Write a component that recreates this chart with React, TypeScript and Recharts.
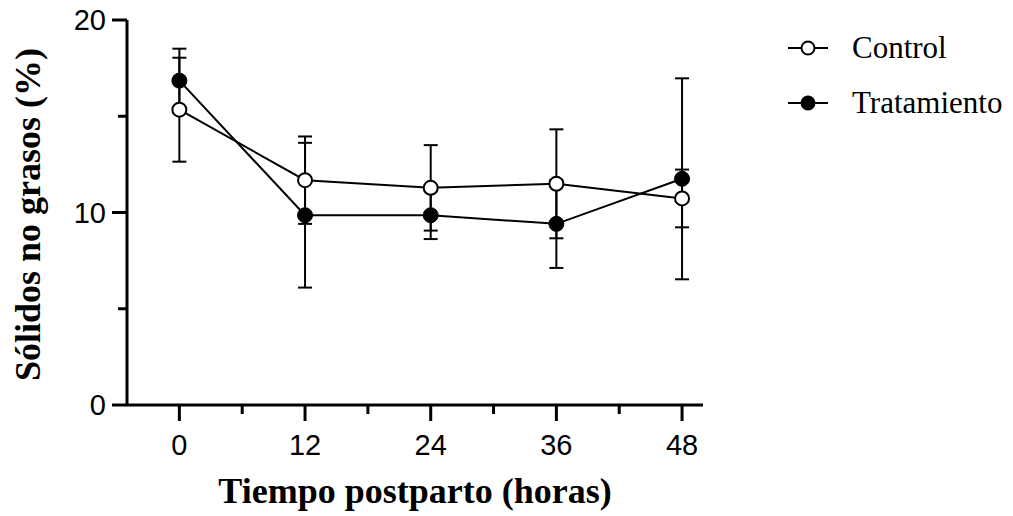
import { ErrorBar, Label, Legend, Line, LineChart, XAxis, YAxis } from "recharts";

const hours = [0, 12, 24, 36, 48];
const control = [15.34, 11.68, 11.28, 11.49, 10.73];
const controlErr = [2.7, 2.27, 2.22, 2.83, 1.5];
const treatment = [16.85, 9.86, 9.86, 9.41, 11.75];
const treatmentErr = [1.66, 3.76, 1.24, 2.29, 5.22];

const xTicks = [0, 6, 12, 18, 24, 30, 36, 42, 48];
const yTicks = [0, 5, 10, 15, 20];

const data = hours.map((h, i) => ({
  hour: h,
  control: control[i],
  controlErr: controlErr[i],
  treatment: treatment[i],
  treatmentErr: treatmentErr[i],
}));

const sans = "'Liberation Sans', Arial, sans-serif";
const serif = "'Liberation Serif', 'Times New Roman', serif";

function XTick(props: any) {
  const { x, y, payload } = props;
  const major = payload.value % 12 === 0;
  return (
    <g>
      <line x1={x} x2={x} y1={y} y2={y + (major ? 16 : 9)} stroke="#000" strokeWidth={3} />
      {major && (
        <text x={x} y={y + 50} textAnchor="middle" fontFamily={sans} fontSize={29} fill="#000">
          {payload.value}
        </text>
      )}
    </g>
  );
}

function YTick(props: any) {
  const { x, y, payload } = props;
  const major = payload.value % 10 === 0;
  return (
    <g>
      <line x1={x} x2={x - (major ? 15 : 9)} y1={y} y2={y} stroke="#000" strokeWidth={3} />
      {major && (
        <text x={x - 21} y={y + 10} textAnchor="end" fontFamily={sans} fontSize={29} fill="#000">
          {payload.value}
        </text>
      )}
    </g>
  );
}

function LegendBox() {
  const rows = [
    { name: "Control", fill: "#fff" },
    { name: "Tratamiento", fill: "#000" },
  ];
  return (
    <div>
      {rows.map((r) => (
        <div key={r.name} style={{ display: "flex", alignItems: "center", height: 55 }}>
          <svg width={42} height={20} style={{ marginRight: 23 }}>
            <line x1={1} x2={41} y1={10} y2={10} stroke="#000" strokeWidth={2} />
            <circle cx={21} cy={10} r={6.5} fill={r.fill} stroke="#000" strokeWidth={2} />
          </svg>
          <span style={{ fontFamily: serif, fontSize: 31, color: "#000" }}>{r.name}</span>
        </div>
      ))}
    </div>
  );
}

export default function App() {
  return (
    <div style={{ position: "absolute", left: 0, top: 0, background: "#fff" }}>
      <LineChart
        width={1013}
        height={516}
        data={data}
        margin={{ top: 20, right: 80, bottom: 0, left: 0 }}
      >
        <XAxis
          dataKey="hour"
          type="number"
          domain={[-5, 50]}
          allowDataOverflow
          ticks={xTicks}
          height={111}
          tickSize={0}
          tickMargin={0}
          tickLine={false}
          tick={<XTick />}
          axisLine={{ stroke: "#000", strokeWidth: 3 }}
          interval={0}
        >
          <Label
            content={(p: any) => {
              const vb = p.viewBox;
              return (
                <text
                  x={vb.x + vb.width / 2}
                  y={vb.y + 98}
                  textAnchor="middle"
                  fontFamily={serif}
                  fontWeight="bold"
                  fontSize={36}
                  fill="#000"
                >
                  Tiempo postparto (horas)
                </text>
              );
            }}
          />
        </XAxis>
        <YAxis
          type="number"
          domain={[0, 20]}
          allowDataOverflow
          ticks={yTicks}
          width={127}
          tickSize={0}
          tickMargin={0}
          tickLine={false}
          tick={<YTick />}
          axisLine={{ stroke: "#000", strokeWidth: 3 }}
          interval={0}
        >
          <Label
            content={(p: any) => {
              const vb = p.viewBox;
              const cx = vb.x + 28;
              const cy = vb.y + vb.height / 2 + 2;
              return (
                <text
                  x={cx}
                  y={cy}
                  transform={`rotate(-90 ${cx} ${cy})`}
                  textAnchor="middle"
                  dominantBaseline="central"
                  fontFamily={serif}
                  fontWeight="bold"
                  fontSize={36}
                  fill="#000"
                >
                  Sólidos no grasos (%)
                </text>
              );
            }}
          />
        </YAxis>
        <Legend
          layout="vertical"
          verticalAlign="top"
          align="right"
          content={<LegendBox />}
          wrapperStyle={{ left: 787, top: 20, width: 230 }}
        />
        <Line
          dataKey="treatment"
          name="Tratamiento"
          stroke="#000"
          strokeWidth={2}
          dot={{ r: 7.5, fill: "#000", stroke: "#000", strokeWidth: 1 }}
          isAnimationActive={false}
        >
          <ErrorBar dataKey="treatmentErr" direction="y" width={7} stroke="#000" strokeWidth={2} />
        </Line>
        <Line
          dataKey="control"
          name="Control"
          stroke="#000"
          strokeWidth={2}
          dot={{ r: 7, fill: "#fff", stroke: "#000", strokeWidth: 2 }}
          isAnimationActive={false}
        >
          <ErrorBar dataKey="controlErr" direction="y" width={7} stroke="#000" strokeWidth={2} />
        </Line>
      </LineChart>
    </div>
  );
}
